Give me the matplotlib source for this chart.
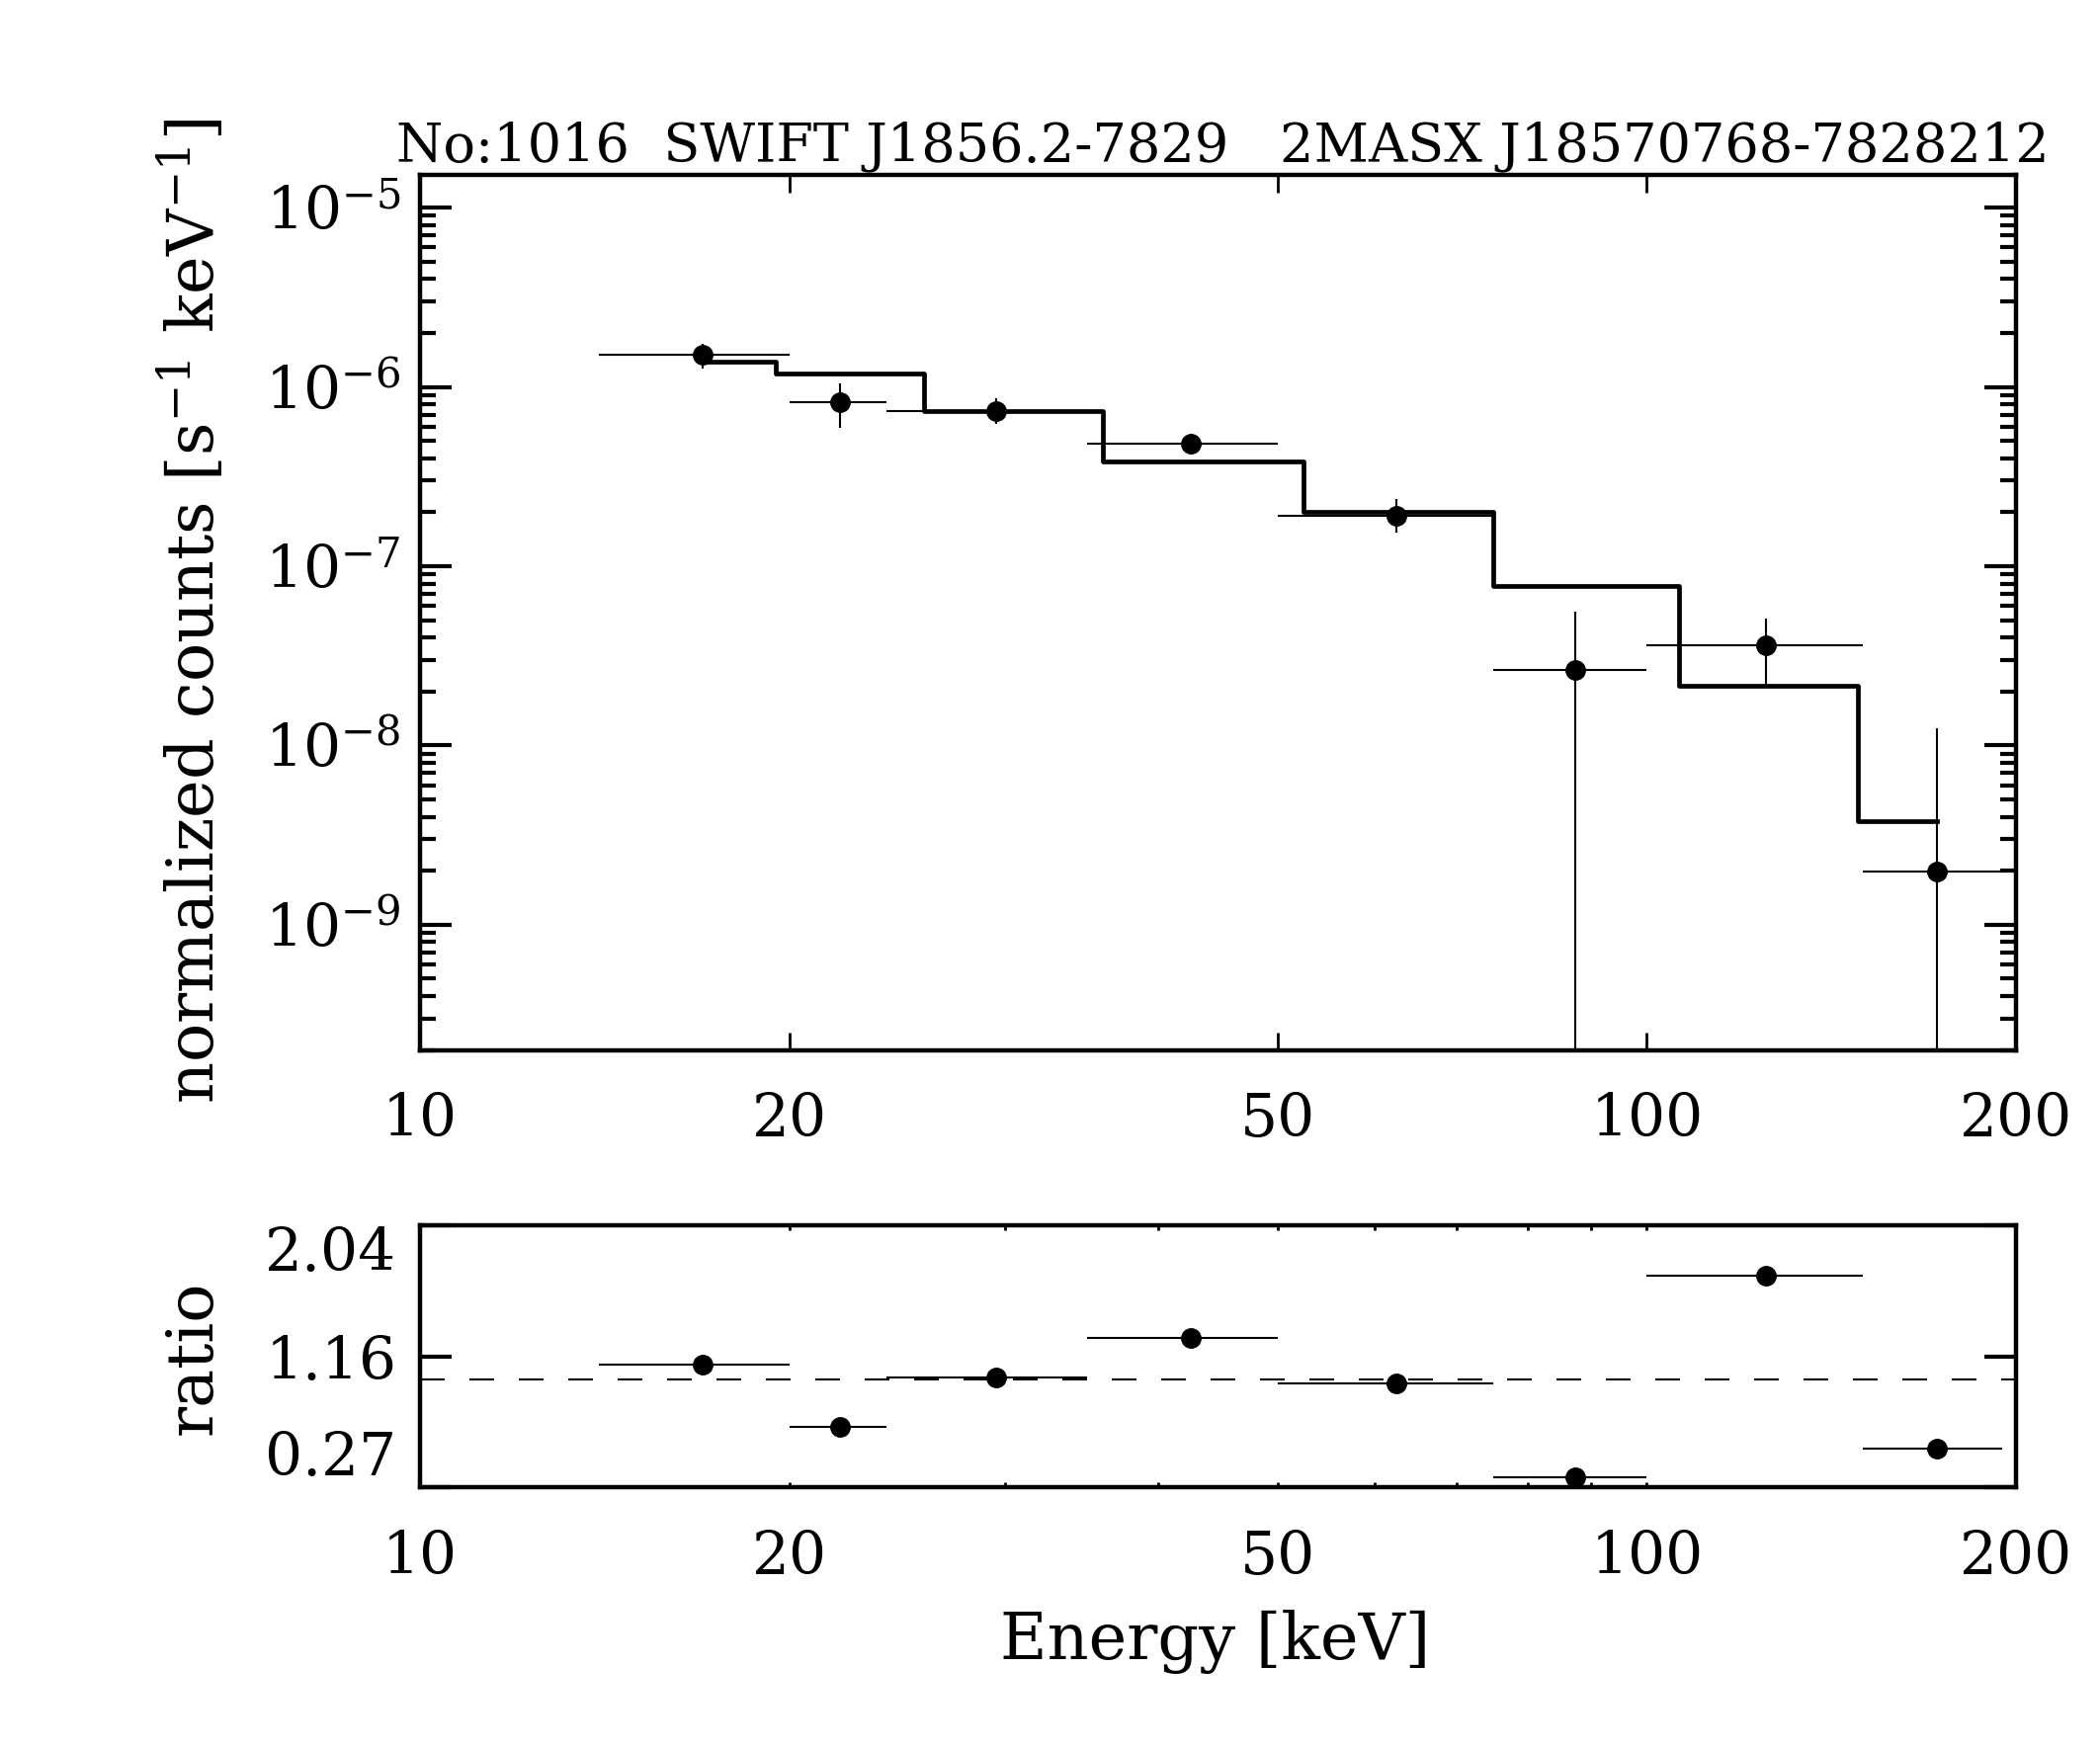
import numpy as np
import matplotlib
matplotlib.use('Agg')
import matplotlib.pyplot as plt
from matplotlib.ticker import FixedLocator, FixedFormatter, NullLocator, NullFormatter, LogLocator

# energy bins [keV]
e_lo = [14, 20, 24, 35, 50, 75, 100, 150]
e_hi = [20, 24, 35, 50, 75, 100, 150, 195]
e_mid = [17, 22, 29.5, 42.5, 62.5, 87.5, 125, 172.5]

# normalized counts [s^-1 keV^-1] with error range
counts = [1.51e-6, 8.2e-7, 7.3e-7, 4.83e-7, 1.92e-7, 2.65e-8, 3.64e-8, 1.98e-9]
counts_lo = [1.26e-6, 5.9e-7, 6.2e-7, 4.17e-7, 1.53e-7, 0, 2.18e-8, 0]
counts_hi = [1.73e-6, 1.04e-6, 8.6e-7, 5.5e-7, 2.36e-7, 5.55e-8, 5.12e-8, 1.25e-8]

# model folded counts
model = [1.38e-6, 1.19e-6, 7.36e-7, 3.83e-7, 2.0e-7, 7.8e-8, 2.15e-8, 3.79e-9]

# data / model
ratio = [1.10, 0.68, 1.01, 1.28, 0.97, 0.34, 1.70, 0.53]
ratio_ticks = [0.27, 1.155, 2.04]
ratio_ticklabels = ['0.27', '1.16', '2.04']

x_ticks = [10, 20, 50, 100, 200]
x_ticklabels = ['10', '20', '50', '100', '200']

title = 'No:1016  SWIFT J1856.2-7829   2MASX J18570768-7828212'

plt.rcParams['font.family'] = ['DejaVu Serif']
plt.rcParams['mathtext.fontset'] = 'dejavuserif'

fig = plt.figure(figsize=(21.25, 17.71), dpi=100)
ax = fig.add_axes([0.2, 0.4, 0.76, 0.5])
ax2 = fig.add_axes([0.2, 0.15, 0.76, 0.15])

x = np.array(e_mid)
xerr = [x - np.array(e_lo), np.array(e_hi) - x]

# 上图: 谱 + 模型
ax.set_xscale('log')
ax.set_yscale('log')
y = np.array(counts)
ylo = np.maximum(np.array(counts_lo), 1e-20)
yerr = [y - ylo, np.array(counts_hi) - y]
ax.errorbar(x, y, xerr=xerr, yerr=yerr, fmt='o', color='black', ms=14,
            elinewidth=1.5, capsize=0)
ax.plot(x, model, drawstyle='steps-mid', color='black', lw=3.4)
ax.set_xlim(10, 200)
ax.set_ylim(2.0e-10, 1.52e-5)

# 下图: ratio
ax2.set_xscale('log')
ax2.errorbar(x, ratio, xerr=xerr, fmt='o', color='black', ms=14,
             elinewidth=1.5, capsize=0)
ax2.axhline(1.0, color='black', lw=1.5, dashes=(12, 12))
ax2.set_xlim(10, 200)
ax2.set_ylim(0.27, 2.04)

for a in (ax, ax2):
    a.xaxis.set_major_locator(FixedLocator(x_ticks))
    a.xaxis.set_major_formatter(FixedFormatter(x_ticklabels))
    for s in a.spines.values():
        s.set_linewidth(3.2)
    a.tick_params(which='both', direction='in', top=True, right=True, labelsize=43)
    a.tick_params(axis='x', which='major', pad=30)
    a.tick_params(axis='y', which='major', length=23, width=3, pad=14)

ax.xaxis.set_minor_locator(NullLocator())
ax.tick_params(axis='x', which='major', length=12.7, width=2)
ax.yaxis.set_major_locator(LogLocator(base=10, numticks=20))
ax.yaxis.set_minor_locator(LogLocator(base=10, subs=np.arange(2, 10), numticks=20))
ax.yaxis.set_minor_formatter(NullFormatter())
ax.tick_params(axis='y', which='minor', length=11.5, width=3)

ax2.xaxis.set_minor_locator(FixedLocator([30, 40, 60, 70, 80, 90]))
ax2.xaxis.set_minor_formatter(NullFormatter())
ax2.tick_params(axis='x', which='both', length=3.5, width=2)
ax2.yaxis.set_major_locator(FixedLocator(ratio_ticks))
ax2.yaxis.set_major_formatter(FixedFormatter(ratio_ticklabels))
ax2.yaxis.set_minor_locator(NullLocator())
ax2.tick_params(axis='y', pad=17)
labs = ax2.get_yticklabels()
labs[0].set_va('bottom')
labs[2].set_va('top')

fig.text(1237 / 2125, 1 - 163 / 1771, title, ha='center', va='baseline', fontsize=39)
fig.text(195 / 2125, 1 - 619 / 1771, 'normalized counts [s$^{-1}$ keV$^{-1}$]',
         rotation=90, ha='center', va='center', fontsize=47)
fig.text(196 / 2125, 1 - 1374 / 1771, 'ratio', rotation=90, ha='center', va='center', fontsize=47)
fig.text(1230 / 2125, 1 - 1679 / 1771, 'Energy [keV]', ha='center', va='baseline', fontsize=47)

fig.savefig('out.png', dpi=100)
